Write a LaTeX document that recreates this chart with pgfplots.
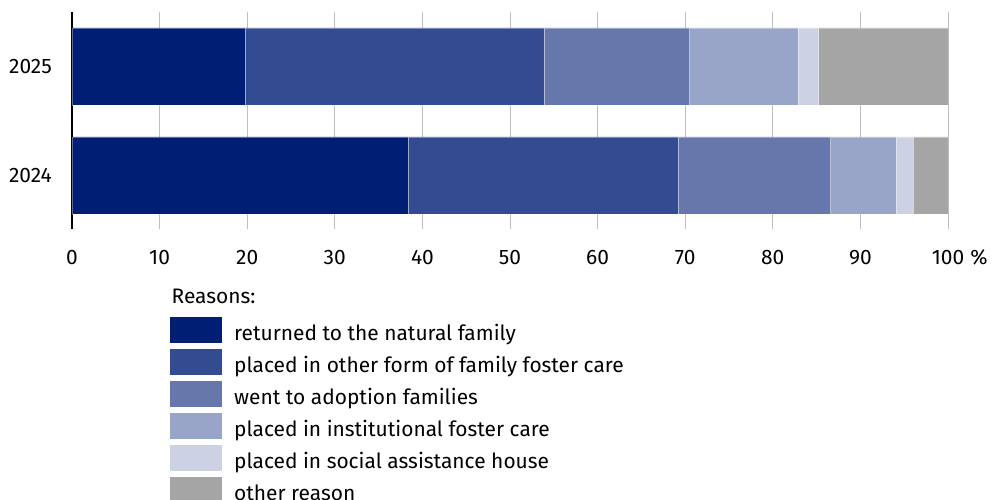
\documentclass[border=0pt]{standalone}
\usepackage{pgfplots}
\pgfplotsset{compat=1.18}
\usepackage{pgfplotstable}
\usepackage{fontspec}
\setmainfont{Fira Sans}

\definecolor{c1}{HTML}{001E73}
\definecolor{c2}{HTML}{334B91}
\definecolor{c3}{HTML}{6677AB}
\definecolor{c4}{HTML}{99A5C8}
\definecolor{c5}{HTML}{CCD2E4}
\definecolor{c6}{HTML}{A5A5A5}

\newcommand\chartfont{\fontsize{21}{25}\selectfont}

% shares in %, pos 0 = 2024, pos 1 = 2025
\pgfplotstableread{
pos a    b    c    d    e   f
0   38.4 30.8 17.4 7.5  1.9 4.0
1   19.8 34.1 16.6 12.4 2.3 14.8
}\shares

\begin{document}
\begin{tikzpicture}
\begin{axis}[
    scale only axis, width=876bp, height=217bp,
    xmin=0, xmax=100, ymin=-0.491, ymax=1.5,
    xbar stacked, bar width=77bp,
    axis lines*=left,
    x axis line style={draw=none},
    y axis line style={black, line width=1.2bp},
    xmajorgrids, grid style={black!25, line width=0.8bp},
    tick style={draw=none},
    xtick={0,10,...,100},
    xticklabels={0,10,20,30,40,50,60,70,80,90,100\rlap{\hspace{0.3em}\%}},
    ytick={0,1}, yticklabels={2024,2025},
    xticklabel style={font=\chartfont, inner sep=0pt, text height=14.5bp, text depth=0pt, yshift=-21bp},
    yticklabel style={font=\chartfont, inner sep=0pt, text height=14.5bp, text depth=0pt, xshift=-20bp},
    legend style={at={(0.11187,-0.40553)}, anchor=north west, draw=none, fill=none,
        inner sep=0pt, row sep=6bp, column sep=12bp, font=\chartfont,
        nodes={inner sep=0pt, text height=23bp, text depth=3bp}},
    legend cell align=left,
    legend image code/.code={\fill[#1, draw=none] (0bp,-13bp) rectangle (52bp,13bp);},
    every axis plot/.append style={draw=white, draw opacity=0.35, line width=0.8bp},
]
\addplot[fill=c1] table[x=a, y=pos] {\shares};
\addplot[fill=c2] table[x=b, y=pos] {\shares};
\addplot[fill=c3] table[x=c, y=pos] {\shares};
\addplot[fill=c4] table[x=d, y=pos] {\shares};
\addplot[fill=c5] table[x=e, y=pos] {\shares};
\addplot[fill=c6] table[x=f, y=pos] {\shares};
\legend{returned to the natural family,
        placed in other form of family foster care,
        went to adoption families,
        placed in institutional foster care,
        placed in social assistance house,
        other reason}
\end{axis}
\node[anchor=base west, inner sep=0pt, font=\chartfont] at (99.5bp,-74bp) {Reasons:};
\pgfresetboundingbox
\path[use as bounding box] (-72bp,-271bp) rectangle (920bp,229bp);
\end{tikzpicture}
\end{document}
